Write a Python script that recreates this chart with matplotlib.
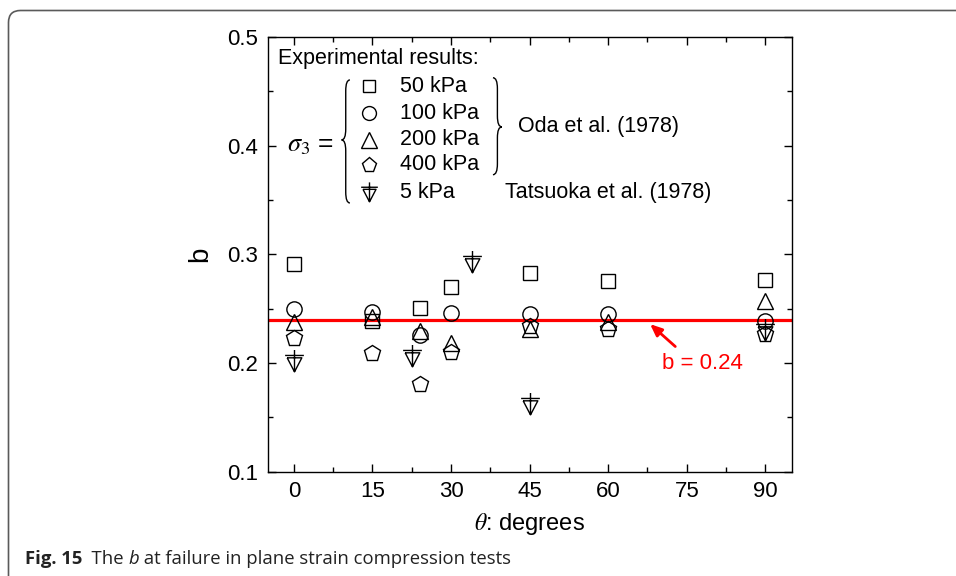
import matplotlib
matplotlib.use("Agg")
import matplotlib.pyplot as plt
from matplotlib.path import Path
from matplotlib.patches import PathPatch, FancyBboxPatch
from matplotlib.transforms import IdentityTransform

# DATA
angles_oda = [0, 15, 24, 30, 45, 60, 90]
b_50kpa = [0.291, 0.239, 0.251, 0.270, 0.283, 0.275, 0.276]
b_100kpa = [0.250, 0.247, 0.226, 0.246, 0.245, 0.245, 0.239]
b_200kpa = [0.238, 0.242, 0.229, 0.218, 0.231, 0.238, 0.257]
b_400kpa = [0.223, 0.209, 0.181, 0.210, 0.234, 0.231, 0.227]
angles_tatsuoka = [0, 22.5, 34, 45, 90]
b_5kpa = [0.201, 0.206, 0.292, 0.161, 0.229]
b_mean = 0.24
x_ticks = [0, 15, 30, 45, 60, 75, 90]
y_ticks = [0.1, 0.2, 0.3, 0.4, 0.5]

plt.rcParams['font.family'] = ['Liberation Sans', 'DejaVu Sans']
plt.rcParams['mathtext.fontset'] = 'stix'

# down triangle with a cross on top (Tatsuoka symbol)
tri_cross = Path(
    [(0, 0.8), (0, -0.6), (-0.6, 0.45), (0.6, 0.45),
     (-0.47, 0.3), (0.47, 0.3), (0, -0.6), (-0.47, 0.3)],
    [Path.MOVETO, Path.LINETO, Path.MOVETO, Path.LINETO,
     Path.MOVETO, Path.LINETO, Path.LINETO, Path.LINETO])

# (x, y, marker, size on plot, size in legend, label)
styles = [
    (angles_oda, b_50kpa, 's', 10, 9, '50 kPa'),
    (angles_oda, b_100kpa, 'o', 11, 10, '100 kPa'),
    (angles_oda, b_200kpa, '^', 12, 11, '200 kPa'),
    (angles_oda, b_400kpa, 'p', 12, 11, '400 kPa'),
    (angles_tatsuoka, b_5kpa, tri_cross, 18, 16, '5 kPa'),
]

fig = plt.figure(figsize=(9.56, 5.76), dpi=100)
ax = fig.add_axes([0.280, 0.181, 0.548, 0.755])

for xs, ys, m, ms, ms_leg, lab in styles:
    ax.plot(xs, ys, linestyle='none', marker=m, markersize=ms,
            mfc='none', mec='black', mew=1.0)

ax.axhline(b_mean, color='#ff0000', lw=2.3, zorder=1)
ax.annotate('', xy=(67.6, 0.2375), xytext=(73.2, 0.2135),
            arrowprops=dict(arrowstyle='-|>,head_length=0.7,head_width=0.3',
                            color='#ff0000', lw=2))
ax.text(78, 0.2, f'b = {b_mean:.2f}', color='#ff0000', fontsize=16,
        ha='center', va='center')

ax.set_xlim(-5, 95)
ax.set_ylim(0.1, 0.5)
ax.set_xticks(x_ticks)
ax.set_yticks(y_ticks)
ax.set_xticks([v + 7.5 for v in x_ticks[:-1]], minor=True)
ax.set_yticks([v + 0.05 for v in y_ticks[:-1]], minor=True)
ax.tick_params(which='both', direction='in', top=True, right=True,
               labelsize=16, width=1)
ax.tick_params(which='major', length=6, pad=7)
ax.tick_params(which='minor', length=3.5)
for s in ax.spines.values():
    s.set_linewidth(1)

ax.set_ylabel('b', fontsize=20, labelpad=10)
ax.set_xlabel(r'$\theta$: degrees', fontsize=17, labelpad=6)

# legend drawn by hand
T = ax.transAxes
ax.text(0.019, 0.951, 'Experimental results:', transform=T, fontsize=15.5,
        va='center')
rows = [0.886, 0.824, 0.763, 0.706, 0.641]
for (xs, ys, m, ms, ms_leg, lab), yr in zip(styles, rows):
    ax.plot([0.193], [yr], transform=T, linestyle='none', marker=m,
            markersize=ms_leg, mfc='none', mec='black', mew=1.0)
    ax.text(0.252, yr, lab, transform=T, fontsize=15.5, va='center')
ax.text(0.036, 0.752, r'$\sigma_3$ =', transform=T, fontsize=19, va='center')
ax.text(0.478, 0.793, 'Oda et al. (1978)', transform=T, fontsize=15.5,
        va='center')
ax.text(0.453, 0.641, 'Tatsuoka et al. (1978)', transform=T, fontsize=15.5,
        va='center')


def brace(x_tip, x_back, y_top, y_bot, y_mid, d=0.025):
    xm = (x_tip + x_back) / 2
    verts = [(x_back, y_top), (xm, y_top), (xm, y_top - d),
             (xm, y_mid + d), (xm, y_mid), (x_tip, y_mid),
             (xm, y_mid), (xm, y_mid - d), (xm, y_bot + d),
             (xm, y_bot), (x_back, y_bot)]
    codes = [Path.MOVETO, Path.CURVE3, Path.CURVE3, Path.LINETO,
             Path.CURVE3, Path.CURVE3, Path.CURVE3, Path.CURVE3,
             Path.LINETO, Path.CURVE3, Path.CURVE3]
    ax.add_patch(PathPatch(Path(verts, codes), transform=T, fill=False,
                           lw=1, color='black'))


brace(0.141, 0.157, 0.901, 0.618, 0.763)
brace(0.447, 0.430, 0.906, 0.683, 0.793)

# frame around the figure + caption
fig.patches.append(FancyBboxPatch((8.5, -30), 1000, 595.5,
                                  boxstyle='round,pad=0,rounding_size=12',
                                  transform=IdentityTransform(), fill=False,
                                  ec='#5a5a5a', lw=1.2))

renderer = fig.canvas.get_renderer()
x_pix = 25
pieces = [('Fig. 15', 'bold', 'normal'), ('  The ', 'normal', 'normal'),
          ('b', 'normal', 'italic'),
          (' at failure in plane strain compression tests', 'normal', 'normal')]
for s, w, st in pieces:
    t = fig.text(x_pix / 956, 17 / 576, s, fontsize=13.3, family='Open Sans',
                 weight=w, style=st, va='center', color='#222222')
    x_pix += t.get_window_extent(renderer).width

fig.savefig('out.png', dpi=100)
